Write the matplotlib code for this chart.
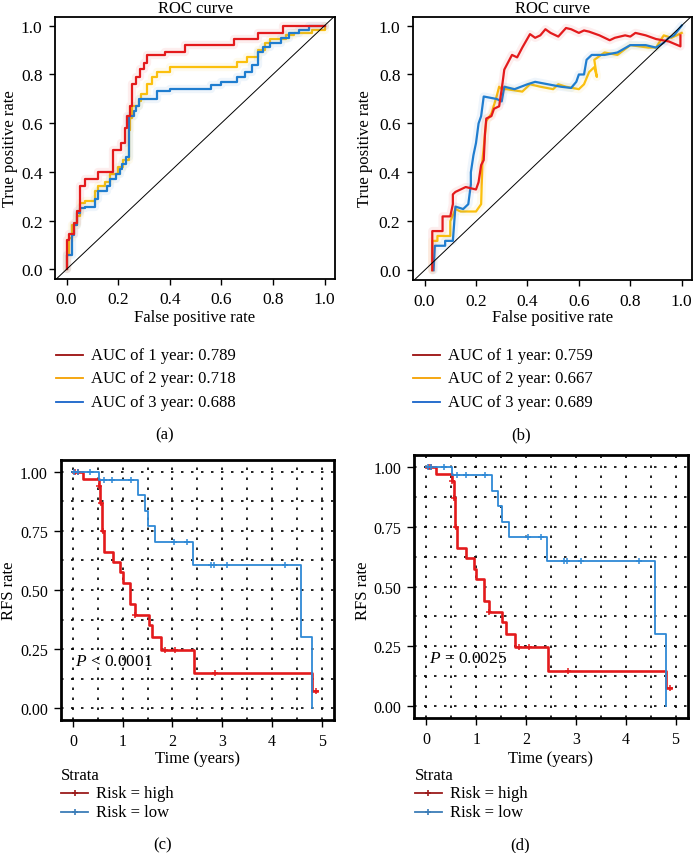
import numpy as np
import matplotlib
matplotlib.use("Agg")
import matplotlib.pyplot as plt
from matplotlib.lines import Line2D

plt.rcParams['font.family'] = ['Liberation Serif', 'DejaVu Serif']
plt.rcParams['font.size'] = 12
plt.rcParams['mathtext.fontset'] = 'custom'
plt.rcParams['mathtext.rm'] = 'Liberation Serif'
plt.rcParams['mathtext.it'] = 'Liberation Serif:italic'

# ---- ROC data (a): staircase points (fpr, tpr after jump)
roc_a_red_x = [0, 0, 0.01, 0.03, 0.04, 0.05, 0.07, 0.12, 0.18, 0.21, 0.225, 0.235, 0.245, 0.255, 0.27, 0.285, 0.30, 0.31, 0.38, 0.46, 0.65, 0.74, 0.84, 1.0]
roc_a_red_y = [0, 0.12, 0.145, 0.19, 0.24, 0.34, 0.37, 0.40, 0.49, 0.52, 0.58, 0.63, 0.67, 0.76, 0.79, 0.82, 0.845, 0.88, 0.89, 0.92, 0.945, 0.97, 1.0, 1.0]
roc_a_org_x = [0, 0, 0.01, 0.02, 0.04, 0.05, 0.07, 0.11, 0.12, 0.15, 0.17, 0.20, 0.22, 0.24, 0.245, 0.255, 0.28, 0.29, 0.31, 0.33, 0.35, 0.40, 0.66, 0.70, 0.74, 0.77, 0.79, 0.85, 0.88, 0.95, 1.0]
roc_a_org_y = [0, 0.06, 0.13, 0.18, 0.22, 0.27, 0.28, 0.32, 0.34, 0.36, 0.39, 0.42, 0.45, 0.57, 0.62, 0.67, 0.69, 0.72, 0.76, 0.79, 0.81, 0.83, 0.85, 0.87, 0.90, 0.93, 0.945, 0.96, 0.97, 0.98, 1.0]
roc_a_blu_x = [0, 0, 0.02, 0.03, 0.04, 0.05, 0.07, 0.11, 0.12, 0.155, 0.17, 0.19, 0.205, 0.215, 0.23, 0.24, 0.26, 0.27, 0.28, 0.35, 0.40, 0.56, 0.60, 0.66, 0.69, 0.72, 0.74, 0.76, 0.79, 0.83, 0.86, 0.90, 0.94, 1.0]
roc_a_blu_y = [0, 0.06, 0.14, 0.18, 0.23, 0.25, 0.255, 0.29, 0.32, 0.34, 0.37, 0.39, 0.41, 0.43, 0.46, 0.63, 0.65, 0.67, 0.70, 0.73, 0.74, 0.755, 0.77, 0.79, 0.81, 0.84, 0.89, 0.91, 0.93, 0.95, 0.97, 0.98, 1.0, 1.0]

# ---- ROC data (b): polylines
roc_b_red_x = [0.03, 0.03, 0.07, 0.07, 0.10, 0.11, 0.11, 0.12, 0.14, 0.16, 0.20, 0.21, 0.22, 0.23, 0.235, 0.24, 0.26, 0.27, 0.29, 0.30, 0.31, 0.33, 0.34, 0.36, 0.38, 0.41, 0.43, 0.45, 0.47, 0.49, 0.52, 0.55, 0.57, 0.60, 0.62, 0.64, 0.68, 0.72, 0.74, 0.76, 0.78, 0.80, 0.82, 0.86, 0.90, 0.95, 0.995, 0.995]
roc_b_red_y = [0, 0.16, 0.16, 0.22, 0.22, 0.27, 0.31, 0.32, 0.33, 0.34, 0.33, 0.36, 0.43, 0.45, 0.56, 0.62, 0.63, 0.66, 0.67, 0.74, 0.82, 0.86, 0.88, 0.87, 0.91, 0.965, 0.95, 0.96, 0.985, 0.97, 0.955, 0.99, 0.985, 0.97, 0.98, 0.975, 0.96, 0.94, 0.95, 0.955, 0.96, 0.955, 0.97, 0.96, 0.945, 0.935, 0.915, 0.96]
roc_b_org_x = [0.03, 0.03, 0.05, 0.05, 0.10, 0.10, 0.12, 0.14, 0.20, 0.22, 0.225, 0.23, 0.24, 0.26, 0.28, 0.29, 0.30, 0.32, 0.38, 0.41, 0.45, 0.50, 0.52, 0.55, 0.60, 0.61, 0.62, 0.64, 0.66, 0.67, 0.66, 0.70, 0.75, 0.80, 0.87, 0.90, 0.93, 0.96, 1.0]
roc_b_org_y = [0, 0.12, 0.12, 0.14, 0.14, 0.20, 0.25, 0.24, 0.24, 0.27, 0.45, 0.50, 0.61, 0.64, 0.71, 0.75, 0.74, 0.74, 0.73, 0.76, 0.75, 0.74, 0.76, 0.75, 0.74, 0.75, 0.76, 0.81, 0.83, 0.79, 0.86, 0.89, 0.88, 0.92, 0.91, 0.91, 0.96, 0.95, 0.97]
roc_b_blu_x = [0.035, 0.04, 0.08, 0.08, 0.11, 0.12, 0.15, 0.17, 0.18, 0.18, 0.19, 0.20, 0.21, 0.22, 0.23, 0.28, 0.30, 0.31, 0.35, 0.40, 0.43, 0.48, 0.53, 0.57, 0.59, 0.60, 0.62, 0.63, 0.65, 0.70, 0.75, 0.80, 0.86, 0.90, 0.93, 0.95, 0.97, 1.0]
roc_b_blu_y = [0, 0.10, 0.10, 0.12, 0.12, 0.26, 0.25, 0.27, 0.35, 0.40, 0.47, 0.52, 0.60, 0.63, 0.71, 0.70, 0.69, 0.75, 0.74, 0.76, 0.77, 0.76, 0.75, 0.745, 0.77, 0.80, 0.80, 0.86, 0.88, 0.88, 0.89, 0.92, 0.92, 0.91, 0.93, 0.95, 0.96, 1.0]

auc_a = ["0.789", "0.718", "0.688"]
auc_b = ["0.759", "0.667", "0.689"]

# ---- KM data
hi_t = [0, 0.20, 0.52, 0.55, 0.58, 0.62, 0.80, 0.95, 1.00, 1.15, 1.25, 1.52, 1.60, 1.77, 2.43, 4.81, 4.90]
hi_s = [1.0, 0.97, 0.94, 0.87, 0.75, 0.66, 0.62, 0.575, 0.53, 0.44, 0.395, 0.35, 0.30, 0.245, 0.147, 0.074, 0.074]
hi_cens = [0.05, 0.10, 0.52, 0.56, 0.60, 1.25, 1.85, 2.05, 2.85, 4.88]
lo_t = [0, 0.52, 1.31, 1.44, 1.51, 1.66, 2.41, 4.58, 4.81]
lo_s = [1.0, 0.965, 0.90, 0.835, 0.77, 0.705, 0.605, 0.30, 0.0]
lo_cens = [0.03, 0.10, 0.35, 0.62, 0.79, 1.17, 2.03, 2.30, 2.77, 2.83, 3.10, 4.27]
pvals = ["< 0.0001", "= 0.0025"]

W, H = 693, 854
FS = 12
fig = plt.figure(figsize=(W / 100, H / 100), dpi=100)


def box(l, t, r, b):
    return [l / W, 1 - b / H, (r - l) / W, (b - t) / H]


def ftxt(x, y, s, **kw):
    fig.text(x / W, 1 - y / H, s, **kw)


def fline(x0, x1, y, color, lw=1.3, marker=None):
    fig.add_artist(Line2D([x0 / W, x1 / W], [1 - y / H, 1 - y / H], color=color, lw=lw))
    if marker:
        fig.add_artist(Line2D([(x0 + x1) / 2 / W], [1 - y / H], color=color, marker=marker,
                              ms=4, mew=1.2))


red, org, blu = "#E31A1C", "#FBC00D", "#1F7DCF"
leg_cols = ["#9B0E0E", "#F5A000", "#1763C9"]

roc_sets = [
    ([(roc_a_org_x, roc_a_org_y, org), (roc_a_blu_x, roc_a_blu_y, blu), (roc_a_red_x, roc_a_red_y, red)], True, auc_a),
    ([(roc_b_org_x, roc_b_org_y, org), (roc_b_blu_x, roc_b_blu_y, blu), (roc_b_red_x, roc_b_red_y, red)], False, auc_b),
]
roc_boxes = [box(55, 18, 335, 280), box(413, 18, 692, 281)]
roc_xoff = [0, 357]

for (lines, steps, aucs), bx, off in zip(roc_sets, roc_boxes, roc_xoff):
    ax = fig.add_axes(bx)
    for xs, ys, c in lines:
        ds = 'steps-post' if steps else 'default'
        ax.plot(xs, ys, color=c, lw=6, alpha=0.07, drawstyle=ds, solid_capstyle='round')
        ax.plot(xs, ys, color=c, lw=1.6, drawstyle=ds)
    ax.axline((0, 0), (1, 1), color='black', lw=0.7)
    ax.set_xlim(-0.045, 1.04)
    ax.set_ylim(-0.04, 1.035)
    ax.set_xticks(np.arange(0, 1.01, 0.2))
    ax.set_yticks(np.arange(0, 1.01, 0.2))
    ax.tick_params(length=4, width=1, pad=5, labelsize=12.5)
    for sp in ax.spines.values():
        sp.set_linewidth(1.3)
    cx = (bx[0] + bx[2] / 2) * W
    ftxt(cx, 13, "ROC curve", ha='center', va='baseline', fontsize=FS)
    ftxt(cx, 318, "False positive rate", ha='center', va='center', fontsize=FS)
    ftxt(10 + (off - 2 if off else 0), 149, "True positive rate", rotation=90,
         ha='center', va='center', fontsize=FS)
    for i, (a, col) in enumerate(zip(aucs, leg_cols)):
        y = [356, 379, 403][i]
        fline(56 + off, 83 + off, y, col)
        ftxt(91 + off, y, f"AUC of {i + 1} year: {a}", va='center', fontsize=FS)

ftxt(165, 435, "(a)", ha='center', va='center', fontsize=FS)
ftxt(521, 435, "(b)", ha='center', va='center', fontsize=FS)


def step_at(ts, ss, t):
    i = np.searchsorted(ts, t, side='right') - 1
    return ss[i]


km_boxes = [box(60.5, 461, 334, 721), box(414, 456, 688, 719)]
km_off = [0, 354]
for bx, off, p, lab in zip(km_boxes, km_off, pvals, ["(c)", "(d)"]):
    ax = fig.add_axes(bx)
    ax.set_xlim(-0.25, 5.25)
    ax.set_ylim(-0.05, 1.05)
    ax.set_xticks(range(6))
    ax.set_xticks(np.arange(0.5, 5.1, 1.0), minor=True)
    ax.set_yticks([0, 0.25, 0.5, 0.75, 1.0])
    ax.set_yticks([0.125, 0.375, 0.625, 0.875], minor=True)
    ax.set_yticklabels(["0.00", "0.25", "0.50", "0.75", "1.00"])
    ax.grid(True, which='both', color='black', lw=1.2, linestyle=(0, (1.5, 4.5)))
    ax.tick_params(which='major', length=5, width=1, pad=4, labelsize=11.5)
    ax.tick_params(which='minor', length=0)
    for sp in ax.spines.values():
        sp.set_linewidth(2)
    ax.step(hi_t, hi_s, where='post', color=red, lw=1.9)
    ax.step(lo_t, lo_s, where='post', color="#2F89D6", lw=1.3)
    ax.plot(hi_cens, [step_at(hi_t, hi_s, t) for t in hi_cens], '+', color=red, ms=4, mew=1.1)
    ax.plot(lo_cens, [step_at(lo_t, lo_s, t) for t in lo_cens], '+', color="#2F89D6", ms=4, mew=1.1)
    ax.text(0.05, 0.2, r"$\it{P}$ " + p, fontsize=12.5, va='center', ha='left')
    cx = (bx[0] + bx[2] / 2) * W
    ftxt(cx, 759, "Time (years)", ha='center', va='center', fontsize=FS)
    ftxt(9 + off, 591, "RFS rate", rotation=90, ha='center', va='center', fontsize=FS)
    ftxt(61 + off, 776, "Strata", va='center', fontsize=FS)
    fline(61 + off, 88 + off, 794, "#9B1B1B", lw=1.3, marker='+')
    fline(61 + off, 88 + off, 813, "#3C7DB8", lw=1.3, marker='+')
    ftxt(96 + off, 794, "Risk = high", va='center', fontsize=FS)
    ftxt(96 + off, 813, "Risk = low", va='center', fontsize=FS)
    ftxt(163 + off * 1.009, 845, lab, ha='center', va='center', fontsize=FS)

fig.savefig("out.png", dpi=100)
